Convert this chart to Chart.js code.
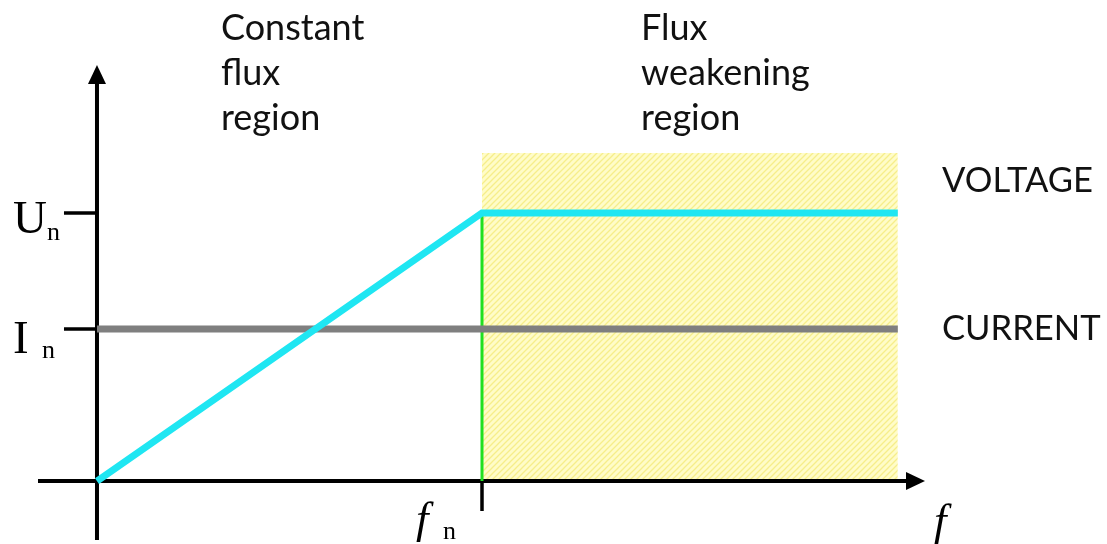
<!DOCTYPE html>
<html>
<head>
<meta charset="utf-8">
<script src="https://cdn.jsdelivr.net/npm/chart.js@4.4.1/dist/chart.umd.min.js"></script>
<style>
  html, body { margin: 0; padding: 0; background: #ffffff; }
  #wrap { width: 1107px; height: 544px; }
</style>
</head>
<body>
<div id="wrap"><canvas id="c" width="1107" height="544"></canvas></div>
<script>
// ---- data (frequency normalised to fn = 1, values normalised to Un = 1) ----
const freq        = [0, 1, 2.08];
const voltage     = [0, 1, 1];
const currentX    = [0, 2.08];
const current     = [0.567, 0.567];
const regionX     = [1, 2.08];
const regionTop   = [1.224, 1.224];
const fnLineX     = [1, 1];
const fnLineY     = [0, 1];

// tick labels
const yTickValues = [1, 0.567];
const yTickMain   = ['U', 'I'];
const yTickSub    = ['n', 'n'];
const xTickValues = [1];
const xTickMain   = ['f'];
const xTickSub    = ['n'];
const xAxisTitle  = 'f';

// annotations
const regionLabels = [
  { x: 1 - 0.6779, lines: ['Constant', 'flux', 'region'] },
  { x: 1 + 0.4130, lines: ['Flux', 'weakening', 'region'] }
];
const seriesLabels = [
  { text: 'VOLTAGE', y: 1.12 },
  { text: 'CURRENT', y: 0.567 }
];

const pts = (xs, ys) => xs.map((x, i) => ({ x: x, y: ys[i] }));

function hatch() {
  const c = document.createElement('canvas');
  c.width = 6; c.height = 6;
  const g = c.getContext('2d');
  g.fillStyle = '#fffcc8';
  g.fillRect(0, 0, 6, 6);
  g.strokeStyle = '#f6ee8a';
  g.lineWidth = 1.3;
  g.beginPath();
  g.moveTo(-1, 7); g.lineTo(7, -1);
  g.moveTo(-1, 1); g.lineTo(1, -1);
  g.moveTo(5, 7); g.lineTo(7, 5);
  g.stroke();
  return g.createPattern(c, 'repeat');
}

function fitFont(ctx, text, width, family) {
  ctx.font = '40px ' + family;
  const w = ctx.measureText(text).width;
  return (40 * width / w).toFixed(1) + 'px ' + family;
}

const ctx0 = document.getElementById('c').getContext('2d');

const axesPlugin = {
  id: 'axesPlugin',
  afterDatasetDraw(chart, args) {
    if (args.index !== 3) return;
    const ctx = chart.ctx;
    const xs = chart.scales.x, ys = chart.scales.y, a = chart.chartArea;
    const x0 = xs.getPixelForValue(0), y0 = ys.getPixelForValue(0);
    ctx.save();
    ctx.strokeStyle = '#000';
    ctx.fillStyle = '#000';
    ctx.lineWidth = 4;
    ctx.lineCap = 'butt';
    // y axis
    ctx.beginPath();
    ctx.moveTo(x0, a.bottom);
    ctx.lineTo(x0, a.top + 14);
    ctx.stroke();
    ctx.beginPath();
    ctx.moveTo(x0, a.top);
    ctx.lineTo(x0 - 9, a.top + 19);
    ctx.lineTo(x0 + 9, a.top + 19);
    ctx.closePath();
    ctx.fill();
    // x axis
    ctx.beginPath();
    ctx.moveTo(a.left, y0);
    ctx.lineTo(a.right - 14, y0);
    ctx.stroke();
    ctx.beginPath();
    ctx.moveTo(a.right, y0);
    ctx.lineTo(a.right - 19, y0 - 9);
    ctx.lineTo(a.right - 19, y0 + 9);
    ctx.closePath();
    ctx.fill();
    // y ticks
    ctx.lineWidth = 3.5;
    yTickValues.forEach((v, i) => {
      const py = ys.getPixelForValue(v);
      ctx.beginPath();
      ctx.moveTo(x0 - 33, py);
      ctx.lineTo(x0, py);
      ctx.stroke();
      ctx.textBaseline = 'alphabetic';
      ctx.textAlign = 'left';
      ctx.font = '47px "Liberation Serif"';
      const base = py + (i === 0 ? 20 : 24);
      ctx.fillText(yTickMain[i], x0 - 84, base);
      ctx.font = '26px "Liberation Serif"';
      ctx.fillText(yTickSub[i], x0 - (i === 0 ? 50 : 55), base + (i === 0 ? 7 : 5));
    });
    // x ticks
    xTickValues.forEach((v, i) => {
      const px = xs.getPixelForValue(v);
      ctx.beginPath();
      ctx.moveTo(px, y0);
      ctx.lineTo(px, y0 + 30);
      ctx.stroke();
      ctx.textAlign = 'left';
      ctx.font = 'italic 45px "Liberation Serif"';
      ctx.fillText(xTickMain[i], px - 66, y0 + 52);
      ctx.font = '26px "Liberation Serif"';
      ctx.fillText(xTickSub[i], px - 39, y0 + 58);
    });
    // axis title
    ctx.font = 'italic 45px "Liberation Serif"';
    ctx.fillText(xAxisTitle, a.right + 9, y0 + 54);
    ctx.restore();
  },
  afterDraw(chart) {
    const ctx = chart.ctx;
    const xs = chart.scales.x, ys = chart.scales.y;
    ctx.save();
    ctx.fillStyle = '#111';
    ctx.textAlign = 'left';
    ctx.textBaseline = 'alphabetic';
    ctx.font = '36px Lato';
    regionLabels.forEach(r => {
      const px = xs.getPixelForValue(r.x);
      r.lines.forEach((t, j) => ctx.fillText(t, px, 40 + j * 45));
    });
    ctx.font = fitFont(ctx, 'VOLTAGE', 151, 'Lato');
    ctx.textBaseline = 'middle';
    seriesLabels.forEach(s => {
      ctx.fillText(s.text, 942, ys.getPixelForValue(s.y));
    });
    ctx.restore();
  }
};

new Chart(ctx0, {
  type: 'scatter',
  data: {
    datasets: [
      { label: 'Voltage', data: pts(freq, voltage), showLine: true, borderColor: '#1fe6f2',
        borderWidth: 7, pointRadius: 0, fill: false, borderCapStyle: 'butt' },
      { label: 'Current', data: pts(currentX, current), showLine: true, borderColor: '#7f7f7f',
        borderWidth: 7, pointRadius: 0, fill: false },
      { label: 'fn', data: pts(fnLineX, fnLineY), showLine: true, borderColor: '#20e020',
        borderWidth: 3, pointRadius: 0, fill: false },
      { label: 'Flux weakening region', data: pts(regionX, regionTop), showLine: true,
        borderWidth: 0, borderColor: 'rgba(0,0,0,0)', pointRadius: 0,
        fill: 'origin', backgroundColor: hatch() }
    ]
  },
  options: {
    responsive: false,
    animation: false,
    events: [],
    layout: { padding: { left: 38, right: 182, top: 65, bottom: 4 } },
    plugins: { legend: { display: false }, tooltip: { enabled: false } },
    scales: {
      x: { type: 'linear', min: -0.1532, max: 2.1506, display: false },
      y: { type: 'linear', min: -0.220, max: 1.552, display: false }
    }
  },
  plugins: [axesPlugin]
});
</script>
</body>
</html>
